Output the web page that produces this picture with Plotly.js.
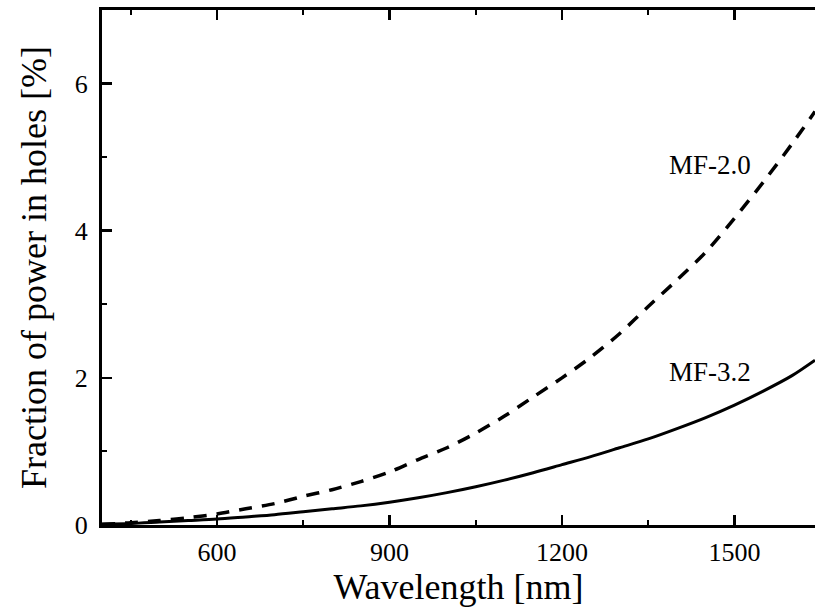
<!DOCTYPE html>
<html>
<head>
<meta charset="utf-8">
<script src="https://cdn.plot.ly/plotly-3.0.1.min.js"></script>
<style>
  html, body { margin: 0; padding: 0; background: #fff; }
  #chart { width: 815px; height: 612px; }
</style>
</head>
<body>
<div id="chart"></div>
<script>
// Wavelength grid [nm]
const wavelength = [400, 450, 500, 550, 600, 650, 700, 750, 800, 850, 900, 950, 1000,
  1050, 1100, 1150, 1200, 1250, 1300, 1350, 1400, 1450, 1500, 1550, 1600, 1640];

// Fraction of power in holes [%] for the two fibres
const mf20 = [0.01, 0.03, 0.06, 0.10, 0.15, 0.22, 0.29, 0.39, 0.48, 0.59, 0.72, 0.89, 1.05,
  1.25, 1.48, 1.74, 2.00, 2.28, 2.60, 2.97, 3.33, 3.71, 4.17, 4.66, 5.18, 5.62];
const mf32 = [0.01, 0.02, 0.04, 0.06, 0.08, 0.11, 0.14, 0.18, 0.22, 0.26, 0.31, 0.37, 0.44,
  0.52, 0.61, 0.71, 0.82, 0.93, 1.05, 1.17, 1.31, 1.46, 1.63, 1.82, 2.03, 2.24];

// Curve labels and where they sit (data coordinates)
const labelText = ['MF-2.0', 'MF-3.2'];
const labelX = [1457, 1457];
const labelY = [4.89, 2.08];

const serif = 'Liberation Serif, Times New Roman, serif';

const traces = [
  {
    x: wavelength, y: mf20, type: 'scatter', mode: 'lines', name: 'MF-2.0',
    line: { color: '#000', width: 3.5, dash: '13px,10px', shape: 'spline', smoothing: 0.8 }
  },
  {
    x: wavelength, y: mf32, type: 'scatter', mode: 'lines', name: 'MF-3.2',
    line: { color: '#000', width: 3, shape: 'spline', smoothing: 0.8 }
  }
];

const layout = {
  width: 815, height: 612,
  margin: { l: 102, r: 0, t: 10, b: 87 },
  paper_bgcolor: '#fff', plot_bgcolor: '#fff',
  showlegend: false,
  font: { family: serif, color: '#000' },
  xaxis: {
    range: [400, 1640],
    tickvals: [600, 900, 1200, 1500],
    ticks: 'inside', ticklen: 10, tickwidth: 2.5, tickcolor: '#000',
    minor: { dtick: 150, tick0: 450, ticks: 'inside', ticklen: 5, tickwidth: 2, tickcolor: '#000' },
    showline: true, linecolor: '#000', linewidth: 3, mirror: 'ticks',
    showgrid: false, zeroline: false,
    tickfont: { family: serif, size: 26, color: '#000' },
    ticklabelstandoff: 2,
    title: { text: 'Wavelength [nm]', font: { family: serif, size: 36, color: '#000' }, standoff: 0 }
  },
  yaxis: {
    range: [0, 7],
    tickvals: [0, 2, 4, 6],
    ticks: 'inside', ticklen: 10, tickwidth: 2.5, tickcolor: '#000',
    minor: { dtick: 1, ticks: 'inside', ticklen: 5, tickwidth: 2, tickcolor: '#000' },
    showline: true, linecolor: '#000', linewidth: 3, mirror: false,
    showgrid: false, zeroline: false,
    tickfont: { family: serif, size: 26, color: '#000' },
    ticklabelstandoff: 6,
    title: { text: 'Fraction of power in holes [%]', font: { family: serif, size: 36, color: '#000' }, standoff: 18 }
  },
  annotations: labelText.map((t, i) => ({
    x: labelX[i], y: labelY[i], xref: 'x', yref: 'y', text: t, showarrow: false,
    font: { family: serif, size: 27, color: '#000' }
  }))
};

Plotly.newPlot('chart', traces, layout, { displayModeBar: false, staticPlot: true });
</script>
</body>
</html>
